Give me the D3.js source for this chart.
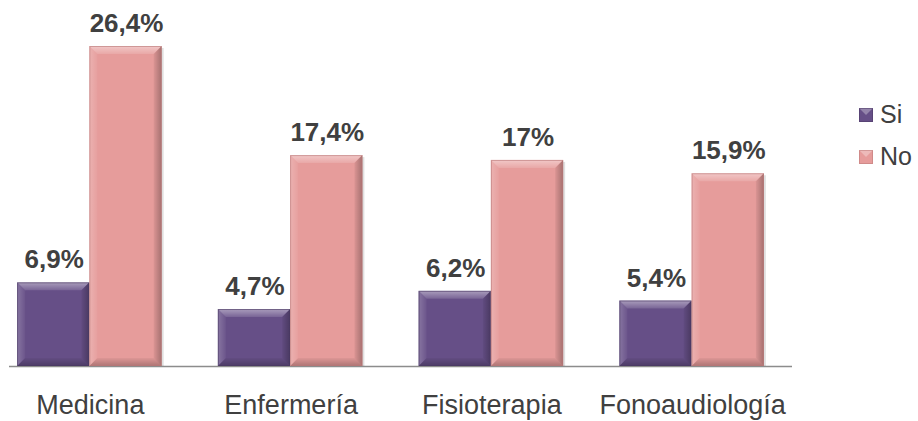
<!DOCTYPE html>
<html>
<head>
<meta charset="utf-8">
<script src="https://cdn.jsdelivr.net/npm/d3@7"></script>
<style>
  html, body { margin: 0; padding: 0; background: #fff; }
  svg { display: block; }
</style>
</head>
<body>
<svg id="chart" width="918" height="421"></svg>
<script>
// Data: share of students per programme answering Si / No
const categories = ["Medicina", "Enfermería", "Fisioterapia", "Fonoaudiología"];
const seriesNames = ["Si", "No"];
const siValues = [6.9, 4.7, 6.2, 5.4];
const noValues = [26.4, 17.4, 17, 15.9];
const valueLabels = {
  Si: ["6,9%", "4,7%", "6,2%", "5,4%"],
  No: ["26,4%", "17,4%", "17%", "15,9%"]
};

const colors = { Si: "#664F87", No: "#E69C9B" };
const edge = { Si: "#4A3863", No: "#B97878" };
const font = "'Liberation Sans', Arial, sans-serif";

const svg = d3.select("#chart");
const baseline = 366;

const x0 = d3.scaleBand().domain(categories).range([-11, 792]).paddingInner(0.28).paddingOuter(0.14);
const x1 = d3.scaleBand().domain(seriesNames).range([0, x0.bandwidth()]);
const y = d3.scaleLinear().domain([0, 26.4]).range([baseline, 46]);

const defs = svg.append("defs");
function grad(id, x1g, y1g, x2g, y2g, stops) {
  const g = defs.append("linearGradient").attr("id", id)
    .attr("x1", x1g).attr("y1", y1g).attr("x2", x2g).attr("y2", y2g);
  stops.forEach(s => g.append("stop").attr("offset", s[0]).attr("stop-color", s[1]).attr("stop-opacity", s[2]));
}
grad("gTop", 0, 0, 0, 1, [[0, "#fff", 0.45], [1, "#fff", 0.12]]);
grad("gLeft", 0, 0, 1, 0, [[0, "#fff", 0.22], [1, "#fff", 0.04]]);
grad("gRight", 1, 0, 0, 0, [[0, "#000", 0.28], [1, "#000", 0.05]]);
grad("gBottom", 0, 1, 0, 0, [[0, "#000", 0.25], [1, "#000", 0.04]]);

const data = categories.map((c, i) => ({
  category: c,
  bars: [
    { key: "Si", value: siValues[i], label: valueLabels.Si[i] },
    { key: "No", value: noValues[i], label: valueLabels.No[i] }
  ]
}));

// axis line
svg.append("line")
  .attr("x1", 9).attr("x2", 792)
  .attr("y1", baseline + 0.5).attr("y2", baseline + 0.5)
  .attr("stroke", "#8c8c8c").attr("stroke-width", 1.5);

const groups = svg.append("g").selectAll("g")
  .data(data).join("g")
  .attr("transform", d => `translate(${x0(d.category)},0)`);

const bevel = 8;
const bar = groups.selectAll("g.bar")
  .data(d => d.bars).join("g").attr("class", "bar");

bar.each(function(d) {
  const g = d3.select(this);
  const bx = x1(d.key), bw = x1.bandwidth();
  const by = y(d.value), bh = baseline - y(d.value);
  const b = Math.min(bevel, bh / 2);
  // soft shadow to the right
  g.append("rect").attr("x", bx + 2).attr("y", by + 2).attr("width", bw).attr("height", bh - 2)
    .attr("fill", "#000").attr("opacity", 0.12);
  g.append("rect").attr("x", bx).attr("y", by).attr("width", bw).attr("height", bh)
    .attr("fill", colors[d.key]);
  const L = bx, R = bx + bw, T = by, B = baseline;
  g.append("polygon").attr("points", [[L, T], [R, T], [R - b, T + b], [L + b, T + b]].join(" "))
    .attr("fill", "url(#gTop)");
  g.append("polygon").attr("points", [[L, T], [L + b, T + b], [L + b, B - b], [L, B]].join(" "))
    .attr("fill", "url(#gLeft)");
  g.append("polygon").attr("points", [[R, T], [R, B], [R - b, B - b], [R - b, T + b]].join(" "))
    .attr("fill", "url(#gRight)");
  g.append("polygon").attr("points", [[L, B], [R, B], [R - b, B - b], [L + b, B - b]].join(" "))
    .attr("fill", "url(#gBottom)");
  g.append("rect").attr("x", bx + 0.5).attr("y", by + 0.5).attr("width", bw - 1).attr("height", bh - 1)
    .attr("fill", "none").attr("stroke", edge[d.key]).attr("stroke-opacity", 0.6);
  // value label
  g.append("text")
    .attr("x", bx + bw / 2 + 1).attr("y", by - 14)
    .attr("text-anchor", "middle")
    .attr("font-family", font)
    .attr("font-weight", "bold").attr("font-size", 26)
    .attr("fill", "#404040")
    .text(d.label);
});

// category labels
svg.append("g").selectAll("text")
  .data(categories).join("text")
  .attr("x", d => x0(d) + x0.bandwidth() / 2 + 1)
  .attr("y", 414)
  .attr("text-anchor", "middle")
  .attr("font-family", font)
  .attr("font-size", 27)
  .attr("fill", "#404040")
  .text(d => d);

// legend
const legend = svg.append("g").selectAll("g")
  .data(seriesNames).join("g")
  .attr("transform", (d, i) => `translate(859,${108 + i * 42})`);
legend.append("rect").attr("width", 14).attr("height", 14).attr("fill", d => colors[d]);
legend.append("polygon").attr("points", "0,0 14,0 7,7").attr("fill", "#fff").attr("opacity", 0.3);
legend.append("rect").attr("x", 0.5).attr("y", 0.5).attr("width", 13).attr("height", 13)
  .attr("fill", "none").attr("stroke", d => edge[d]).attr("stroke-opacity", 0.5);
legend.append("text")
  .attr("x", 21).attr("y", 15)
  .attr("font-family", font)
  .attr("font-size", 25).attr("fill", "#404040")
  .text(d => d);
</script>
</body>
</html>
